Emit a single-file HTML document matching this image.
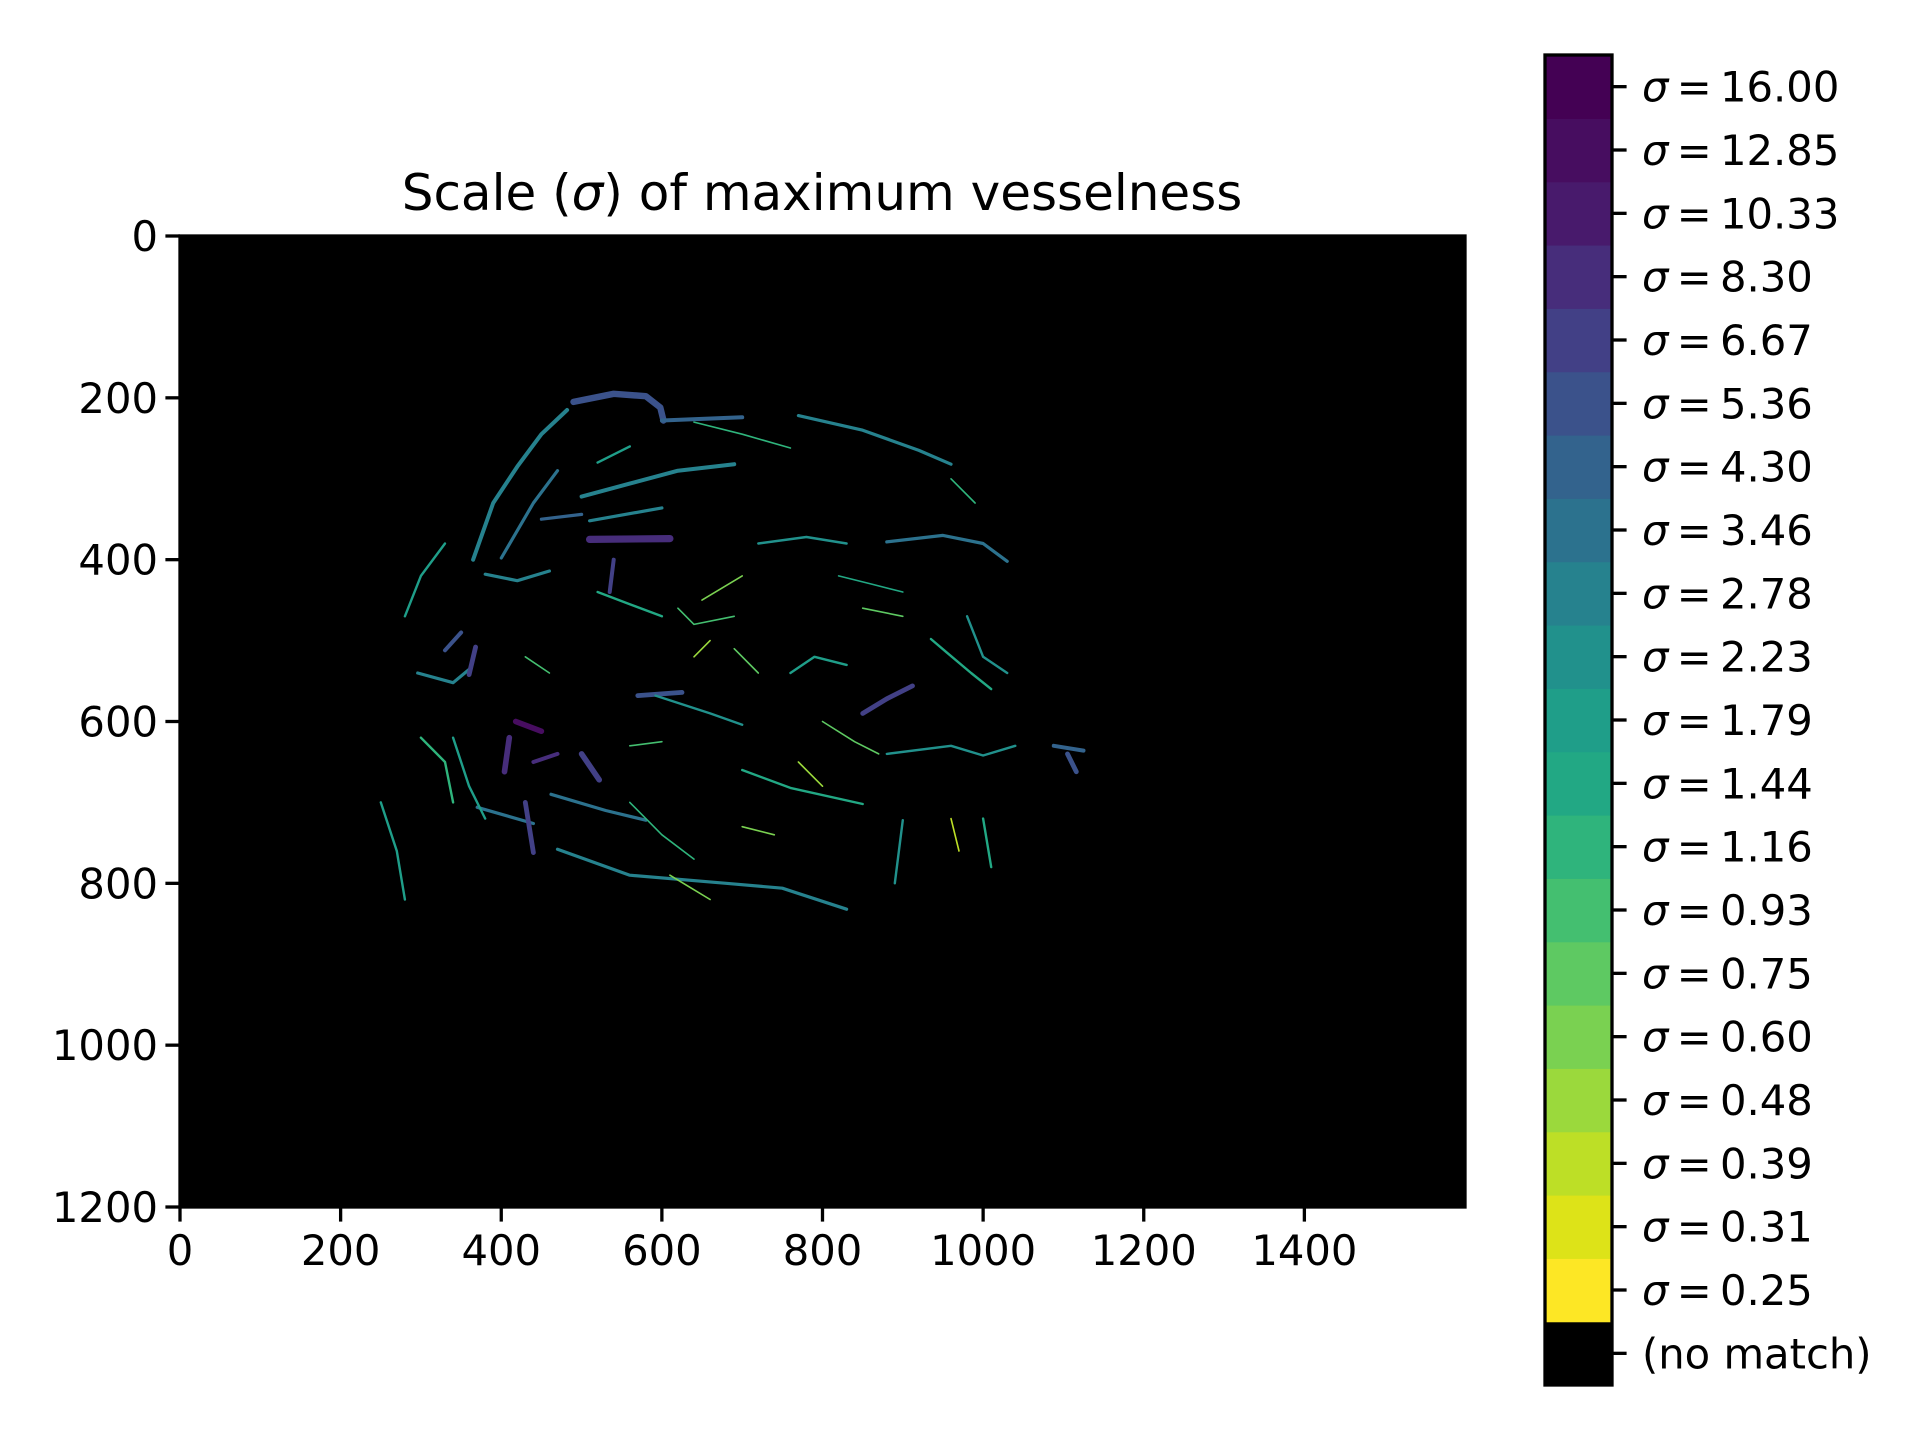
<!DOCTYPE html>
<html><head><meta charset="utf-8"><style>
html,body{margin:0;padding:0;background:#fff;}
svg{display:block;font-family:"DejaVu Sans","Liberation Sans",sans-serif;}
</style></head><body>
<svg id="chart" width="1920" height="1440" xmlns="http://www.w3.org/2000/svg">
<rect width="1920" height="1440" fill="#fff"/>
<text x="822" y="210" font-size="50" text-anchor="middle">Scale (<tspan font-style="italic">σ</tspan>) of maximum vesselness</text>
<rect x="180" y="236" width="1285" height="971" fill="#000"/>
<g id="vessels"></g>
<g id="axes"></g>
<g id="cbar"></g>
</svg>
<script>
const xTicks=[0,200,400,600,800,1000,1200,1400];
const yTicks=[0,200,400,600,800,1000,1200];
const sigmaLabels=["0.25","0.31","0.39","0.48","0.60","0.75","0.93","1.16","1.44","1.79","2.23","2.78","3.46","4.30","5.36","6.67","8.30","10.33","12.85","16.00"];
const levelColors=["#fde725","#dde318","#bddf26","#9bd93c","#7ad151","#5ec962","#44bf70","#2fb47c","#22a884","#1f9e89","#21918c","#26828e","#2c728e","#33638d","#3b528b","#424086","#472d7b","#481a6c","#470d60","#440154"];
// vessel paths in image pixel coordinates, and their sigma level index
const vesselPaths=[
[[490,205],[540,195],[580,198],[598,212],[602,228]],
[[600,228],[700,224]],
[[770,222],[850,240],[920,265],[960,282]],
[[365,400],[390,330],[420,285],[450,245],[482,215]],
[[400,398],[440,330],[470,290]],
[[500,322],[560,306],[620,290],[690,282]],
[[450,350],[500,344]],
[[510,375],[610,374]],
[[510,352],[600,336]],
[[380,418],[420,426],[460,414]],
[[880,378],[950,370],[1000,380],[1030,402]],
[[570,568],[625,564]],
[[592,568],[660,590],[700,604]],
[[850,590],[880,572],[912,556]],
[[418,600],[450,612]],
[[410,620],[404,662]],
[[440,650],[470,640]],
[[500,640],[522,672]],
[[462,690],[530,710],[580,722]],
[[470,758],[560,790],[680,800],[750,806],[830,832]],
[[370,706],[440,726]],
[[430,700],[440,762]],
[[296,540],[340,552],[362,534]],
[[1088,630],[1125,636]],
[[1105,640],[1116,662]],
[[880,640],[960,630],[1000,642],[1040,630]],
[[330,512],[350,490]],
[[360,542],[368,508]],
[[700,660],[760,682],[850,702]],
[[900,722],[890,800]],
[[1010,560],[985,540],[955,515],[935,498]],
[[250,700],[270,760],[280,820]],
[[330,380],[300,420],[280,470]],
[[640,230],[700,245],[760,262]],
[[720,380],[780,372],[830,380]],
[[540,400],[535,440]],
[[620,460],[640,480],[690,470]],
[[800,600],[840,625],[870,640]],
[[770,650],[800,680]],
[[560,700],[600,740],[640,770]],
[[610,790],[660,820]],
[[300,620],[330,650],[340,700]],
[[1000,720],[1010,780]],
[[960,720],[970,760]],
[[820,420],[860,430],[900,440]],
[[430,520],[460,540]],
[[690,510],[720,540]],
[[960,300],[990,330]],
[[650,450],[700,420]],
[[520,280],[560,260]],
[[760,540],[790,520],[830,530]],
[[640,520],[660,500]],
[[560,630],[600,625]],
[[980,470],[1000,520],[1030,540]],
[[340,620],[360,680],[380,720]],
[[700,730],[740,740]],
[[520,440],[560,455],[600,470]],
[[850,460],[900,470]]
];
const vesselLevels=[14,13,11,11,12,11,13,16,11,11,12,14,10,15,18,16,16,15,12,11,12,15,11,13,14,10,14,15,8,10,8,9,9,7,10,15,6,5,3,7,4,7,8,2,8,6,5,7,4,9,9,3,6,10,9,4,8,5];
const vesselWidths=[8,5,4,5,4,5,4,9,4,4,4,6,3,6,7,7,5,7,4,4,4,6,4,5,6,3,5,6,3,3,3,3,3,2,3,5,2,2,2,2,2,3,3,2,2,2,2,2,2,3,3,2,2,3,3,2,3,2];

const L=180,T=236,W=1285,H=971;
const X=v=>L+v*W/1600;
const Y=v=>T+v*H/1200;
const NS="http://www.w3.org/2000/svg";
function mk(tag,attrs,parent){const e=document.createElementNS(NS,tag);for(const k in attrs)e.setAttribute(k,attrs[k]);parent.appendChild(e);return e;}

const vg=document.getElementById('vessels');
vesselPaths.forEach((p,i)=>{
  const d=p.map((pt,j)=>(j?'L':'M')+X(pt[0]).toFixed(1)+','+Y(pt[1]).toFixed(1)).join(' ');
  const e=mk('path',{d:d,fill:'none',stroke:levelColors[vesselLevels[i]],'stroke-width':vesselWidths[i]*W/1600,'stroke-linecap':'round','stroke-linejoin':'round'},vg);
  
  
});

const ax=document.getElementById('axes');
const fr=mk('rect',{x:L,y:T,width:W,height:H,fill:'none',stroke:'#000','stroke-width':3.3},ax);


xTicks.forEach(t=>{
  const x=X(t);
  const l=mk('line',{x1:x,y1:T+H,x2:x,y2:T+H+14.6,stroke:'#000','stroke-width':3.3},ax);
  
  
  const s=mk('text',{x:x,y:T+H+58,'font-size':41.7,'text-anchor':'middle'},ax);
  s.textContent=t;
  
  
});
yTicks.forEach(t=>{
  const y=Y(t);
  const l=mk('line',{x1:L-14.6,y1:y,x2:L,y2:y,stroke:'#000','stroke-width':3.3},ax);
  
  
  const s=mk('text',{x:L-22,y:y+15,'font-size':41.7,'text-anchor':'end'},ax);
  s.textContent=t;
  
  
});

const cb=document.getElementById('cbar');
const CL=1545,CT=55,CW=67,CB=1385;
const n=sigmaLabels.length+1;
const sh=(CB-CT)/n;
for(let i=0;i<n;i++){
  const y=CB-(i+1)*sh;
  const col=i===0?'#000':levelColors[i-1];
  const r=mk('rect',{x:CL,y:y,width:CW,height:sh+0.6,fill:col},cb);
  
  
  const cy=y+sh/2;
  const tl=mk('line',{x1:CL+CW,y1:cy,x2:CL+CW+14.6,y2:cy,stroke:'#000','stroke-width':3.3},cb);
  
  
  const tx=mk('text',{x:1642,y:cy+15,'font-size':41.7},cb);
  if(i===0){tx.textContent='(no match)';}
  else{
    const a=document.createElementNS(NS,'tspan');a.setAttribute('font-style','italic');a.textContent='σ';tx.appendChild(a);
    tx.appendChild(document.createTextNode('\u2009=\u2009'+sigmaLabels[i-1]));
  }
  
  
}
const cf=mk('rect',{x:CL,y:CT,width:CW,height:CB-CT,fill:'none',stroke:'#000','stroke-width':3.3},cb);


</script>
</body></html>
